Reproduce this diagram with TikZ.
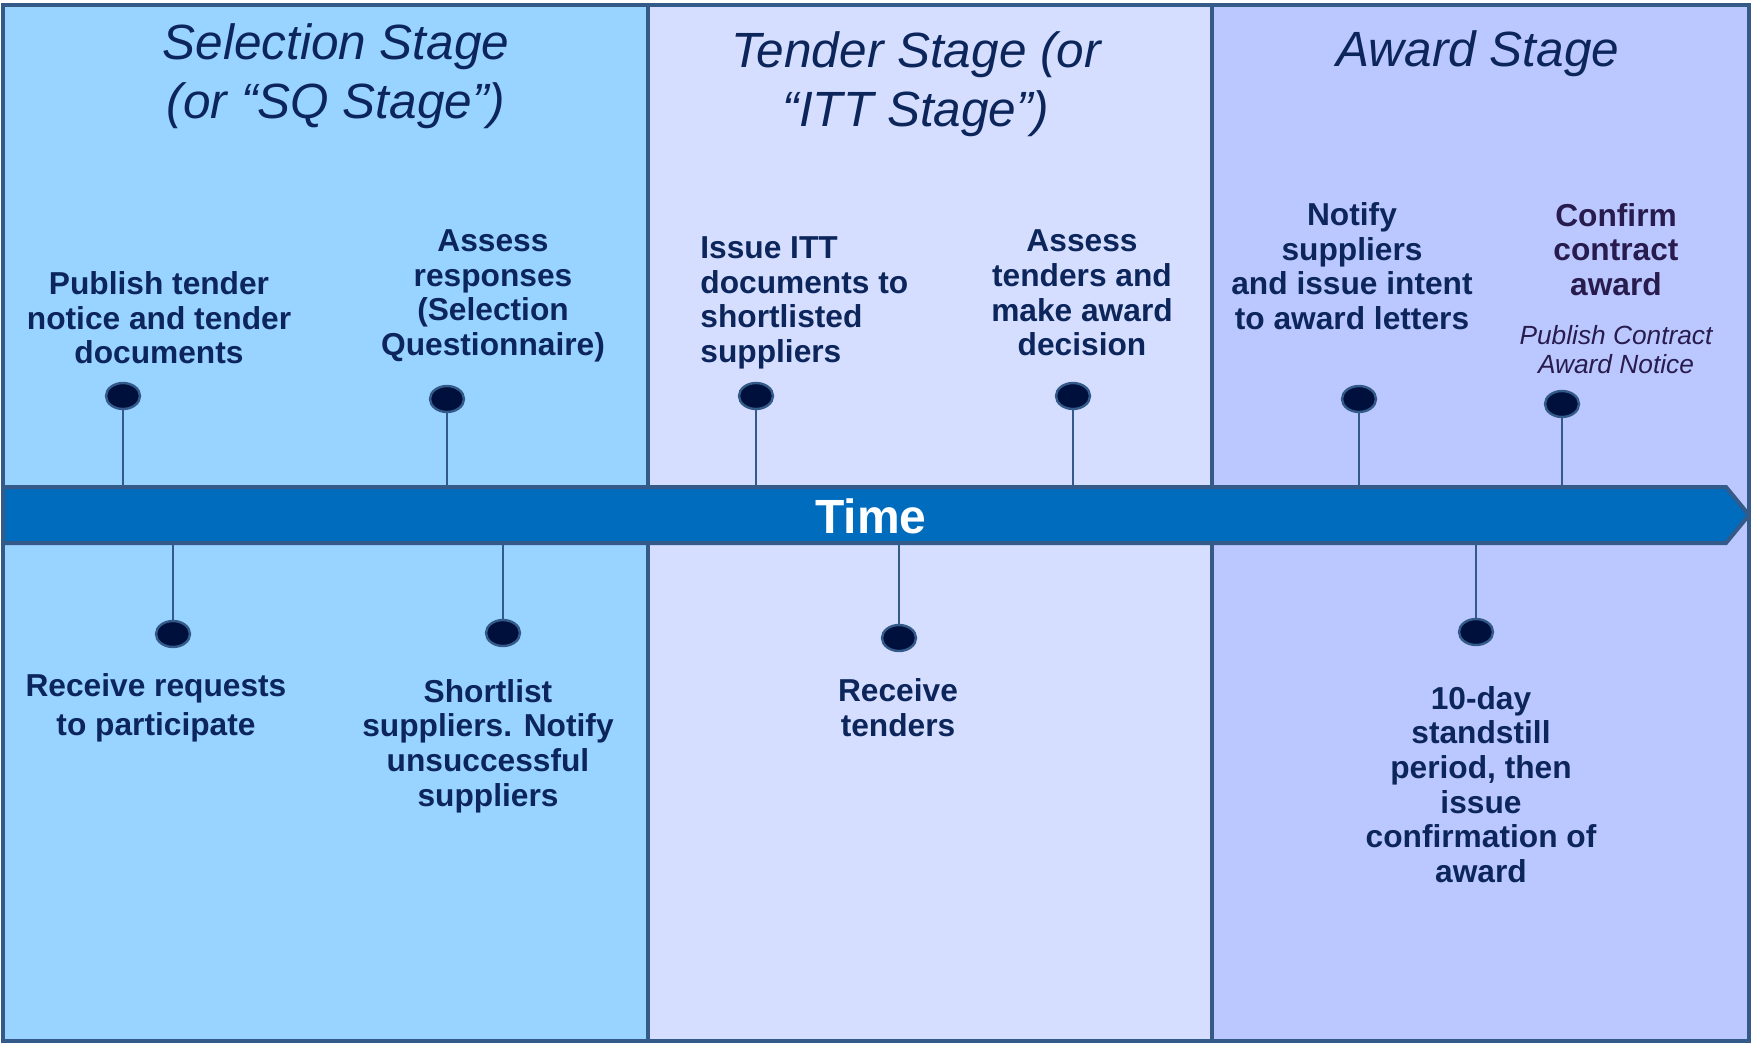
\documentclass[tikz,border=0pt]{standalone}
\usepackage{fontspec}
\setmainfont{Liberation Sans}
\usetikzlibrary{shapes.geometric}
\definecolor{selfill}{RGB}{153,211,255}
\definecolor{tenfill}{RGB}{213,222,255}
\definecolor{awdfill}{RGB}{187,200,255}
\definecolor{edgecol}{RGB}{52,90,138}
\definecolor{bandcol}{RGB}{0,108,190}
\definecolor{navy}{RGB}{12,38,92}
\definecolor{plum}{RGB}{40,28,78}
\definecolor{dotfill}{RGB}{0,16,60}
\begin{document}
\begin{tikzpicture}[x=0.5pt,y=-0.5pt,
  panel/.style={draw=edgecol,line width=2pt},
  title/.style={font=\fontsize{24.75}{29.5}\selectfont\itshape, text=navy, align=center, inner sep=0},
  lbl/.style={font=\fontsize{15.85}{17.3}\selectfont\bfseries, text=navy, align=center, inner sep=0},
  note/.style={font=\fontsize{13.15}{14.5}\selectfont\itshape, text=plum, align=center, inner sep=0},
  dotnode/.style={ellipse, draw=edgecol, line width=1.2pt, fill=dotfill, minimum width=17pt, minimum height=13pt, inner sep=0},
  stem/.style={draw=edgecol, line width=1pt}]
\useasboundingbox (0,0) rectangle (1751,1044);
\fill[white] (0,0) rectangle (1751,1044);
% panels
\draw[panel, fill=selfill] (3,5) rectangle (648,1041);
\draw[panel, fill=tenfill] (648,5) rectangle (1212,1041);
\draw[panel, fill=awdfill] (1212,5) rectangle (1749,1041);
% titles
\node[title] (t1) at (336,76) {Selection Stage\\(or “SQ Stage”)};
\node[title] (t2) at (916,84) {Tender Stage (or\\“ITT Stage”)};
\node[title] (t3) at (1478,54) {Award Stage};
% time band
\draw[draw=edgecol, line width=2pt, fill=bandcol] (3,487) -- (1726,487) -- (1749,515) -- (1726,543) -- (3,543) -- cycle;
\path node[minimum width=860pt, minimum height=28pt, inner sep=0] (band) at (876,515) {};
\node[font=\fontsize{24}{28}\selectfont\bfseries, text=white, inner sep=0] (time) at (871,516) {Time};
% top events
\node[dotnode] (d1) at (123,396) {};
\node[dotnode] (d2) at (447,399) {};
\node[dotnode] (d3) at (756,396) {};
\node[dotnode] (d4) at (1073,396) {};
\node[dotnode] (d5) at (1359,399) {};
\node[dotnode] (d6) at (1562,404) {};
\foreach \d in {d1,d2,d3,d4,d5,d6} \draw[stem] (\d.south) -- (\d.south |- band.north);
% bottom events
\node[dotnode] (e1) at (173,634) {};
\node[dotnode] (e2) at (503,633) {};
\node[dotnode] (e3) at (899,638) {};
\node[dotnode] (e4) at (1476,632) {};
\foreach \e in {e1,e2,e3,e4} \draw[stem] (\e.north) -- (\e.north |- band.south);
% labels above
\node[lbl] (l1) at (159,318) {Publish tender\\notice and tender\\documents};
\node[lbl] (l2) at (493,296) {Assess\\responses\\(Selection\\Questionnaire)};
\node[lbl, align=left, anchor=west] (l3) at (700,303) {Issue ITT\\documents to\\shortlisted\\suppliers};
\node[lbl] (l4) at (1082,293) {Assess\\tenders and\\make award\\decision};
\node[lbl] (l5) at (1352,266) {Notify\\suppliers\\and issue intent\\to award letters};
\node[lbl, text=plum] (l6) at (1616,249.5) {Confirm\\contract\\award};
\node[note] (l6b) at (1616,349.5) {Publish Contract\\Award Notice};
% labels below
\node[lbl, font=\fontsize{15.85}{19.5}\selectfont\bfseries] (m1) at (156,708) {Receive requests\\to participate};
\node[lbl] (m2) at (488,746) {Shortlist\\suppliers. Notify\\unsuccessful\\suppliers};
\node[lbl] (m3) at (898,707.5) {Receive\\tenders};
\node[lbl] (m4) at (1481,784.5) {10-day\\standstill\\period, then\\issue\\confirmation of\\award};
\end{tikzpicture}
\end{document}
